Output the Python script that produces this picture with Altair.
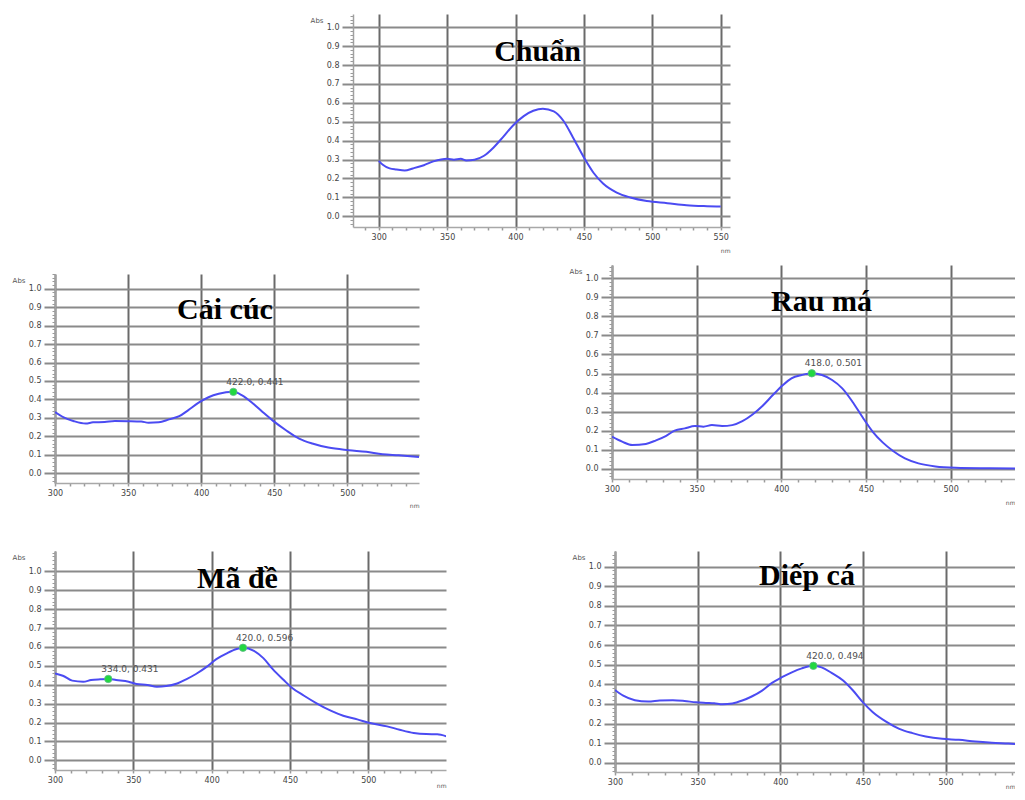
import altair as alt
import pandas as pd

# ---------------- data ----------------
titles = ["Chuẩn", "Cải cúc", "Rau má", "Mã đề", "Diếp cá"]

nm1 = [300, 303, 308, 313, 319, 325, 333, 340, 350, 355, 360, 364, 370, 377, 384, 391, 398, 406, 413, 420,
       428, 435, 442, 450, 457, 464, 474, 484, 496, 511, 525, 540, 550]
ab1 = [0.293, 0.272, 0.253, 0.247, 0.242, 0.253, 0.270, 0.290, 0.304, 0.299, 0.304, 0.295, 0.299, 0.320,
       0.364, 0.420, 0.479, 0.530, 0.558, 0.569, 0.555, 0.505, 0.417, 0.311, 0.230, 0.173, 0.125, 0.099,
       0.080, 0.069, 0.058, 0.053, 0.051]

nm2 = [300, 306, 313, 321, 326, 334, 341, 350, 359, 364, 371, 378, 385, 391, 398, 405, 412, 422, 428, 435,
       442, 449, 458, 467, 476, 487, 501, 513, 524, 535, 549]
ab2 = [0.332, 0.303, 0.282, 0.269, 0.276, 0.278, 0.283, 0.282, 0.280, 0.274, 0.276, 0.292, 0.309, 0.341,
       0.381, 0.412, 0.431, 0.441, 0.422, 0.381, 0.332, 0.285, 0.233, 0.188, 0.161, 0.139, 0.125, 0.116,
       0.103, 0.097, 0.088]

nm3 = [300, 306, 312, 320, 326, 332, 337, 343, 349, 354, 359, 365, 371, 377, 383, 389, 395, 401, 406, 412,
       418, 424, 430, 436, 442, 448, 454, 460, 466, 473, 481, 491, 503, 523, 544]
ab3 = [0.168, 0.142, 0.124, 0.130, 0.149, 0.173, 0.200, 0.212, 0.224, 0.221, 0.229, 0.224, 0.229, 0.250,
       0.285, 0.331, 0.387, 0.440, 0.475, 0.492, 0.501, 0.492, 0.466, 0.422, 0.352, 0.270, 0.194, 0.137,
       0.093, 0.054, 0.028, 0.012, 0.005, 0.002, 0.000]

nm4 = [300, 305, 311, 318, 323, 329, 334, 339, 347, 352, 359, 365, 371, 378, 384, 390, 397, 403, 410, 416,
       420, 427, 433, 439, 446, 451, 459, 467, 476, 484, 493, 501, 512, 520, 529, 537, 544, 550]
ab4 = [0.460, 0.448, 0.422, 0.416, 0.425, 0.429, 0.431, 0.425, 0.416, 0.404, 0.399, 0.390, 0.393, 0.407,
       0.430, 0.457, 0.496, 0.536, 0.568, 0.589, 0.596, 0.580, 0.541, 0.483, 0.425, 0.386, 0.342, 0.302,
       0.263, 0.236, 0.217, 0.198, 0.180, 0.162, 0.145, 0.139, 0.138, 0.127]

nm5 = [300, 305, 312, 320, 327, 335, 342, 349, 355, 360, 365, 371, 377, 383, 389, 395, 401, 407, 413, 420,
       425, 431, 438, 444, 450, 456, 464, 472, 480, 488, 498, 508, 518, 528, 538, 548]
ab5 = [0.371, 0.342, 0.319, 0.312, 0.317, 0.319, 0.315, 0.308, 0.305, 0.303, 0.298, 0.302, 0.317, 0.339,
       0.368, 0.407, 0.436, 0.461, 0.481, 0.494, 0.486, 0.458, 0.419, 0.368, 0.308, 0.258, 0.210, 0.173,
       0.151, 0.134, 0.122, 0.117, 0.108, 0.102, 0.098, 0.093]

peak_nm = [[], [422.0], [418.0], [334.0, 420.0], [420.0]]
peak_ab = [[], [0.441], [0.501], [0.431, 0.596], [0.494]]

# ---------------- styling helpers ----------------
LINE = "#4b4bf2"
GRIDH = "#8a8a8a"
GRIDV = "#6a6a6a"
LAB = "#444444"
FONT = "DejaVu Sans"

MAJY = "abs(datum.value*10 - round(datum.value*10)) < 0.001 && datum.value > -0.001 && datum.value < 1.001"
MAJX = "datum.value % 50 === 0"


def spacer(w, h):
    return alt.Chart(pd.DataFrame({"v": [0]})).mark_text(text="").encode(
        x=alt.value(0), y=alt.value(0)).properties(width=w, height=h)


def panel(i, nm, ab, xdom, ydom, w, h, t_base, t_dx, nm_y):
    df = pd.DataFrame({"nm": nm, "abs": ab})
    x0 = int((xdom[0] + 9.999) // 10 * 10)
    xticks = list(range(x0, int(xdom[1]) + 1, 10))
    yticks = [round(k * 0.02, 2) for k in range(-2, 56) if ydom[0] <= k * 0.02 <= ydom[1]]

    xaxis = alt.Axis(
        values=xticks, labelExpr=f"{MAJX} ? format(datum.value, 'd') : ''",
        grid=True, gridColor=GRIDV, gridWidth=2,
        gridOpacity={"condition": {"test": MAJX, "value": 1}, "value": 0},
        tickSize=3, tickColor="#9a9a9a", tickWidth=1.5,
        domainColor="#a8a8a8", domainWidth=1.5,
        labelFont=FONT, labelFontSize=8, labelColor=LAB, labelPadding=3,
        labelOverlap=False, labelFlush=False,
        title="nm", titleFont=FONT, titleFontSize=6, titleFontWeight="normal", titleColor="#555",
        titleX=w, titleY=nm_y, titleAlign="right", titleBaseline="alphabetic")
    yaxis = alt.Axis(
        values=yticks, labelExpr=f"{MAJY} ? format(datum.value, '.1f') : ''",
        grid=True, gridColor=GRIDH, gridWidth=2,
        gridOpacity={"condition": {"test": MAJY, "value": 1}, "value": 0},
        tickSize={"condition": {"test": MAJY, "value": 11}, "value": 3},
        tickColor={"condition": {"test": MAJY, "value": GRIDH}, "value": "#9a9a9a"},
        tickWidth={"condition": {"test": MAJY, "value": 2}, "value": 1},
        domainColor="#a0a0a0", domainWidth=1.5,
        labelFont=FONT, labelFontSize=8, labelColor=LAB, labelPadding=3,
        labelOverlap=False, labelFlush=False,
        title="Abs", titleFont=FONT, titleFontSize=7, titleFontWeight="normal", titleColor="#555",
        titleAngle=0, titleAlign="right", titleBaseline="alphabetic", titleX=-30, titleY=8)

    xs = alt.Scale(domain=xdom, nice=False, zero=False)
    ys = alt.Scale(domain=ydom, nice=False, zero=False)
    X = alt.X("nm:Q", scale=xs, axis=xaxis)
    Y = alt.Y("abs:Q", scale=ys, axis=yaxis)

    line = alt.Chart(df).mark_line(color=LINE, strokeWidth=2, clip=True, interpolate="monotone").encode(
        x=X, y=Y)
    layers = [line]
    if peak_nm[i]:
        pk = pd.DataFrame({"nm": peak_nm[i], "abs": peak_ab[i]})
        pk["lab"] = [f"{a:.1f}, {b:.3f}" for a, b in zip(peak_nm[i], peak_ab[i])]
        pts = alt.Chart(pk).mark_circle(size=55, color="#22d840", opacity=1,
                                        stroke="#5fb98a", strokeWidth=0.8).encode(x=X, y=Y)
        txt = alt.Chart(pk).mark_text(align="left", baseline="middle", dx=-7, dy=-10,
                                      font=FONT, fontSize=9, color="#505050").encode(
            x=X, y=Y, text="lab:N")
        layers += [pts, txt]
    return alt.layer(*layers).properties(
        width=w, height=h,
        title=alt.TitleParams(titles[i], font="Liberation Serif", fontSize=30, fontWeight="bold",
                              color="#000000", anchor="middle", frame="group", baseline="alphabetic",
                              offset=-(t_base + 31), dx=t_dx))


p1 = panel(0, nm1, ab1, [281.2, 556.8], [-0.057, 1.07], 377, 213, 48.6, -4, 25)
p2 = panel(1, nm2, ab2, [300, 549], [-0.053, 1.08], 364, 209, 48, -12, 24)
p3 = panel(2, nm3, ab3, [300, 538], [-0.054, 1.07], 403, 214, 47, 8, 25)
p4 = panel(3, nm4, ab4, [300, 549.6], [-0.051, 1.108], 391, 219, 38.7, -13, 17)
p5 = panel(4, nm5, ab5, [300, 542], [-0.047, 1.079], 400, 221, 33, -8, 16)

row1 = alt.hconcat(spacer(255, 1), p1, spacing=0)
row2 = alt.hconcat(alt.vconcat(spacer(1, 4), p2, spacing=0), p3, spacing=150)
row3 = alt.hconcat(p4, p5, spacing=126)

chart = alt.vconcat(row1, alt.vconcat(row2, row3, spacing=40), spacing=6).properties(
    padding={"left": 4, "top": 0, "right": 0, "bottom": 0},
    background="white",
).configure_view(stroke=None).configure_concat(spacing=0)

chart.save("out.html", embed_options={"renderer": "svg", "actions": False})
